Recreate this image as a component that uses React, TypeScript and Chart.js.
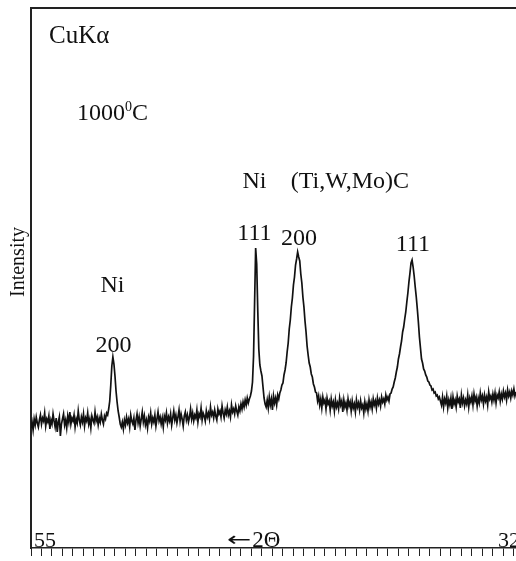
import React, { useEffect, useRef } from "react";
import { Chart, registerables } from "chart.js";

Chart.register(...registerables);

// 2θ scan from 55° down to 31.9° in 0.05° steps
const START_ANGLE = 55.0;
const STEP = 0.05;

// Intensity (arbitrary units)
const intensity: number[] = [
  // 55.00 - 51.40
  120, 126, 118, 129, 123, 131, 125, 121, 128, 133,
  124, 130, 127, 135, 122, 129, 126, 132, 119, 128,
  124, 134, 127, 121, 130, 116, 126, 131, 112, 124,
  129, 134, 123, 128, 120, 132, 126, 136, 124, 130,
  127, 133, 121, 129, 125, 137, 128, 123, 131, 126,
  134, 122, 130, 127, 135, 124, 129, 120, 132, 128,
  125, 136, 127, 131, 123, 130, 126, 134, 128, 124,
  132, 129, 135,
  // Ni 200
  133, 139, 147, 163, 182, 191, 184, 172, 157, 146, 137, 131, 124, 121,
  // 50.65 - 44.95
  126, 119, 128, 123, 131, 125, 129, 121, 133, 127,
  124, 130, 118, 128, 134, 125, 131, 122, 129, 136,
  126, 132, 123, 128, 120, 131, 127, 135, 124, 130,
  126, 133, 122, 129, 136, 127, 131, 124, 130, 121,
  132, 128, 135, 125, 131, 127, 134, 123, 130, 137,
  128, 133, 125, 131, 138, 127, 134, 129, 122, 132,
  136, 128, 133, 126, 131, 139, 129, 135, 127, 133,
  130, 138, 126, 134, 131, 140, 128, 135, 132, 127,
  137, 131, 135, 129, 141, 133, 136, 130, 138, 132,
  128, 139, 134, 137, 131, 142, 135, 130, 138, 134,
  141, 133, 137, 131, 143, 136, 139, 134, 142, 137,
  133, 141, 137, 144, 139,
  146, 141, 148, 143, 150, 145,
  // Ni 111
  149, 152, 157, 166, 192, 246, 300, 284, 238, 199, 183, 177, 172, 161, 150, 144, 141,
  148, 140, 151, 143, 149, 138, 152, 145, 150, 143, 153,
  // (Ti,W,Mo)C 200
  149, 155, 158, 163, 165, 173, 178, 185, 196, 205, 219, 228, 241, 250, 263, 271, 283, 289, 296,
  291, 287, 274, 265, 251, 241, 227, 216, 202, 193, 185, 181, 174, 171, 164, 161, 156, 155,
  // 41.35 - 37.90
  147, 152, 143, 149, 140, 151, 145, 148, 139, 150,
  144, 147, 138, 149, 142, 146, 137, 148, 141, 145,
  139, 150, 143, 147, 136, 148, 141, 145, 138, 149,
  142, 146, 137, 147, 140, 144, 136, 148, 141, 145,
  138, 147, 140, 143, 135, 146, 139, 144, 137, 148,
  141, 146, 139, 149, 143, 147, 140, 150, 144, 148,
  142, 151, 146, 149, 144, 153, 148, 151, 147, 154,
  // (Ti,W,Mo)C 111
  155, 159, 161, 166, 170, 176, 181, 189, 194, 201, 207, 216, 221, 229, 236, 246, 255, 266, 275, 285,
  288, 281, 272, 261, 251, 239, 226, 211, 200, 189, 185, 179, 177, 173, 171, 167, 166, 163, 162, 158,
  159, 155, 156, 152, 153, 149, 151, 147,
  // 35.45 - 31.90
  143, 151, 141, 149, 145, 152, 140, 148, 143, 150,
  139, 151, 144, 148, 141, 152, 146, 149, 140, 153,
  145, 150, 142, 148, 144, 153, 141, 150, 146, 152,
  143, 154, 147, 151, 142, 150, 145, 155, 148, 152,
  144, 153, 147, 151, 143, 156, 149, 152, 146, 154,
  148, 155, 145, 153, 150, 156, 147, 154, 149, 157,
  151, 155, 148, 158, 152, 156, 150, 157, 153, 159,
  152, 156,
];

const X_MIN = 31.9;
const X_MAX = 55;
const Y_MAX = 540;

const tickValues: number[] = [];
for (let v = 32; v <= 55; v += 0.5) tickValues.push(v);

const axisEndLabels = ["55", "32"];
const axisArrow = "\u2190";
const axisTitle = "2\u0398";
const yTitle = "Intensity";
const radiationLabel = "CuK\u03b1";
const tempNumber = "1000";
const tempSup = "0";
const tempUnit = "C";

// annotation anchors in data coordinates (2θ, intensity)
const peakLabels = [
  { text: "Ni", x: 51.12, y: 256 },
  { text: "200", x: 51.07, y: 196 },
  { text: "Ni", x: 44.36, y: 360 },
  { text: "111", x: 44.36, y: 308 },
  { text: "(Ti,W,Mo)C", x: 39.81, y: 360 },
  { text: "200", x: 42.24, y: 303 },
  { text: "111", x: 36.81, y: 297 },
];
const radiationAnchor = { x: 54.14, y: 505 };
const tempAnchor = { x: 52.81, y: 428 };
const axisTitleAnchor = 45.67;
const yTitleAnchor = 286;

const SERIF = "'Liberation Serif', 'DejaVu Serif', serif";

const decorPlugin = {
  id: "decor",
  afterDraw(chart: any) {
    const { ctx, chartArea, scales } = chart;
    const xs = scales.x;
    const ys = scales.y;
    ctx.save();
    // top frame line
    ctx.strokeStyle = "#222";
    ctx.lineWidth = 2;
    ctx.beginPath();
    ctx.moveTo(chartArea.left - 1, chartArea.top);
    ctx.lineTo(chartArea.right, chartArea.top);
    ctx.stroke();

    ctx.fillStyle = "#111";
    ctx.textBaseline = "alphabetic";
    ctx.font = `24px ${SERIF}`;
    ctx.textAlign = "center";
    for (const l of peakLabels) {
      ctx.fillText(l.text, xs.getPixelForValue(l.x), ys.getPixelForValue(l.y));
    }
    ctx.textAlign = "left";
    ctx.font = `25px ${SERIF}`;
    ctx.fillText(radiationLabel, xs.getPixelForValue(radiationAnchor.x), ys.getPixelForValue(radiationAnchor.y));

    ctx.font = `24px ${SERIF}`;
    let tx = xs.getPixelForValue(tempAnchor.x);
    const ty = ys.getPixelForValue(tempAnchor.y);
    ctx.fillText(tempNumber, tx, ty);
    tx += ctx.measureText(tempNumber).width;
    ctx.font = `14px ${SERIF}`;
    ctx.fillText(tempSup, tx, ty - 9);
    tx += ctx.measureText(tempSup).width;
    ctx.font = `24px ${SERIF}`;
    ctx.fillText(tempUnit, tx, ty);

    // axis labels inside the plot, just above the bottom axis
    const by = chartArea.bottom - 1;
    ctx.font = `22px ${SERIF}`;
    ctx.textAlign = "left";
    ctx.fillText(axisEndLabels[0], xs.getPixelForValue(55) + 3, by);
    ctx.fillText(axisEndLabels[1], xs.getPixelForValue(32) - 16, by);
    let ax = xs.getPixelForValue(axisTitleAnchor);
    ctx.save();
    ctx.translate(ax, by - 1);
    ctx.scale(1.45, 1);
    ctx.font = `20px 'DejaVu Sans', sans-serif`;
    const aw = ctx.measureText(axisArrow).width;
    ctx.fillText(axisArrow, 0, 0);
    ctx.restore();
    ax += aw * 1.45 + 1;
    ctx.font = `23px ${SERIF}`;
    ctx.fillText(axisTitle, ax, by);

    // y axis title
    ctx.save();
    ctx.translate(chartArea.left - 7, ys.getPixelForValue(yTitleAnchor));
    ctx.rotate(-Math.PI / 2);
    ctx.font = `20px ${SERIF}`;
    ctx.textAlign = "center";
    ctx.fillText(yTitle, 0, 0);
    ctx.restore();
    ctx.restore();
  },
};

export default function App() {
  const ref = useRef<HTMLCanvasElement | null>(null);
  useEffect(() => {
    if (!ref.current) return;
    const points = intensity.map((v, i) => ({ x: +(START_ANGLE - i * STEP).toFixed(2), y: v }));
    const chart = new Chart(ref.current, {
      type: "line",
      data: {
        datasets: [
          {
            data: points,
            borderColor: "#111",
            borderWidth: 1.7,
            pointRadius: 0,
            tension: 0,
          },
        ],
      },
      options: {
        animation: false,
        responsive: false,
        devicePixelRatio: 1,
        layout: { padding: { left: 0, top: 8, right: 0, bottom: 5 } },
        plugins: { legend: { display: false }, tooltip: { enabled: false } },
        scales: {
          x: {
            type: "linear",
            reverse: true,
            min: X_MIN,
            max: X_MAX,
            afterBuildTicks: (axis: any) => {
              axis.ticks = tickValues.map((v) => ({ value: v }));
            },
            ticks: { display: false },
            grid: { display: true, drawOnChartArea: false, drawTicks: true, tickLength: 8, color: "#222", lineWidth: 1 },
            border: { display: true, color: "#222", width: 1.5 },
          },
          y: {
            min: 0,
            max: Y_MAX,
            afterFit: (scale: any) => {
              scale.width = 31;
            },
            ticks: { display: false },
            grid: { display: false, drawTicks: false },
            border: { display: true, color: "#222", width: 2 },
          },
        },
      },
      plugins: [decorPlugin],
    });
    return () => chart.destroy();
  }, []);
  return (
    <div style={{ position: "fixed", left: 0, top: 0, width: 516, height: 561, background: "#fff" }}>
      <canvas ref={ref} width={516} height={561} />
    </div>
  );
}
